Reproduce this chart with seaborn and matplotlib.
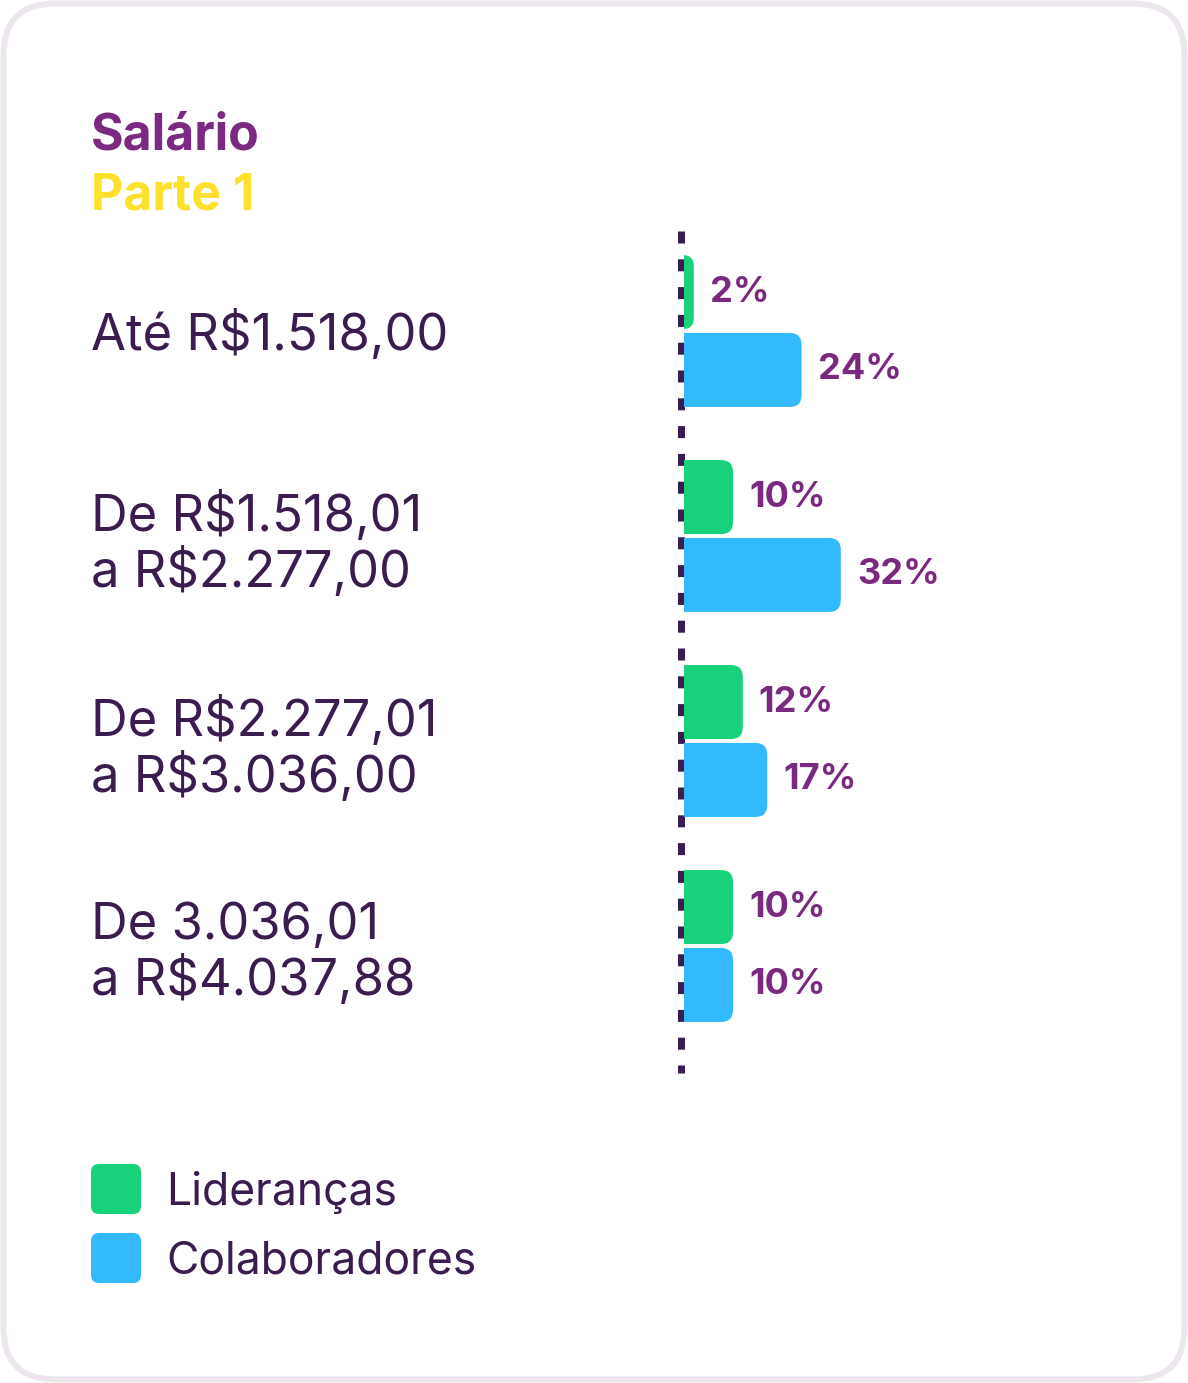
import matplotlib
matplotlib.use("Agg")
import matplotlib.pyplot as plt
import matplotlib.transforms as mtransforms
from matplotlib.patches import FancyBboxPatch
from matplotlib.lines import Line2D
import seaborn as sns
import pandas as pd

# ---------------- data ----------------
categories = ["Até R$1.518,00",
              "De R$1.518,01\na R$2.277,00",
              "De R$2.277,01\na R$3.036,00",
              "De 3.036,01\na R$4.037,88"]
liderancas = [2, 10, 12, 10]
colaboradores = [24, 32, 17, 10]
series_names = ["Lideranças", "Colaboradores"]
title = "Salário"
subtitle = "Parte 1"

# ---------------- style ----------------
GREEN = "#18d27b"
BLUE = "#33b9fe"
DARK = "#3b1c4e"
PCT = "#7a2a7e"
TITLE_C = "#7b2a82"
YELLOW = "#fde12d"
BORDER = "#ede6ef"

W, H, DPI = 1188, 1383, 100

sns.set_theme(style="white")
plt.rcParams['font.family'] = ['Inter', 'DejaVu Sans']
plt.rcParams['lines.scale_dashes'] = False

fig = plt.figure(figsize=(W / DPI, H / DPI), dpi=DPI)
fig.patch.set_facecolor("white")

# background axes in pixel coordinates
bg = fig.add_axes([0, 0, 1, 1], zorder=0)
bg.set_xlim(0, W)
bg.set_ylim(H, 0)
bg.axis("off")
bg.add_patch(FancyBboxPatch((3.5, 3.5), W - 7, H - 7,
                            boxstyle="round,pad=0,rounding_size=52",
                            fc="white", ec=BORDER, lw=6 * 0.72))

# titles
bg.text(91, 150, title, color=TITLE_C, fontsize=36, fontweight="bold", va="baseline", ha="left")
bg.text(91, 209, subtitle, color=YELLOW, fontsize=36, fontweight="bold", va="baseline", ha="left")

# ---------------- bar axes ----------------
px_x = 4.9            # pixels per percent
ax_left, ax_w = 684, 420
pitch = 205
n = len(categories)
top = 331 - pitch / 2
bottom = top + n * pitch
ax = fig.add_axes([ax_left / W, 1 - bottom / H, ax_w / W, (bottom - top) / H], zorder=2)
ax.patch.set_alpha(0)

df = pd.DataFrame({
    "faixa": categories * 2,
    "valor": liderancas + colaboradores,
    "grupo": [series_names[0]] * n + [series_names[1]] * n,
})
sns.barplot(data=df, y="faixa", x="valor", hue="grupo", order=categories,
            hue_order=series_names, palette=[GREEN, BLUE], orient="h",
            width=0.76, gap=0.05, ax=ax, legend=False, errorbar=None,
            saturation=1)
ax.set_xlim(0, ax_w / px_x)
ax.set_ylim(n - 0.5, -0.5)
ax.axis("off")

# round the bar ends
r_px = 12
r = r_px / px_x
aspect = px_x / pitch
values_by_series = [liderancas, colaboradores]
label_trans = mtransforms.blended_transform_factory(bg.transData, ax.transData)
for container, vals in zip(ax.containers, values_by_series):
    for bar, v in zip(container.patches, vals):
        x0, y0, w, h = bar.get_x(), bar.get_y(), bar.get_width(), bar.get_height()
        bar.set_visible(False)
        rr = min(r, (w + r) / 2)
        fb = FancyBboxPatch((x0 - r, y0), w + r, h,
                            boxstyle=f"round,pad=0,rounding_size={rr}",
                            mutation_aspect=aspect,
                            fc=bar.get_facecolor(), ec="none", zorder=3)
        ax.add_patch(fb)
        ax.text(w + 16 / px_x, y0 + h / 2, f"{v}%", color=PCT, fontsize=26,
                fontweight="bold", ha="left", va="center", zorder=4)

# dotted axis line
ax.add_line(Line2D([-3.5 / px_x, -3.5 / px_x], [(231 - 331) / pitch, (1073 - 331) / pitch],
                   color=DARK, lw=7 * 0.72, dashes=(12 * 0.72, 15.8 * 0.72),
                   solid_capstyle="butt", dash_capstyle="butt", clip_on=False, zorder=1))

# category labels
for i, c in enumerate(categories):
    off = 0.035 if "\n" in c else 0.015
    ax.text(91, i + off, c, transform=label_trans, color=DARK, fontsize=36.5,
            ha="left", va="center", linespacing=1.13)

# legend
for j, (name, col) in enumerate(zip(series_names, [GREEN, BLUE])):
    y = 1164 + j * 69
    bg.add_patch(FancyBboxPatch((91, y), 50, 50, boxstyle="round,pad=0,rounding_size=8",
                                fc=col, ec="none"))
    bg.text(166, y + 28, name, color=DARK, fontsize=32, ha="left", va="center")

fig.savefig("out.png", dpi=DPI, facecolor="white")
